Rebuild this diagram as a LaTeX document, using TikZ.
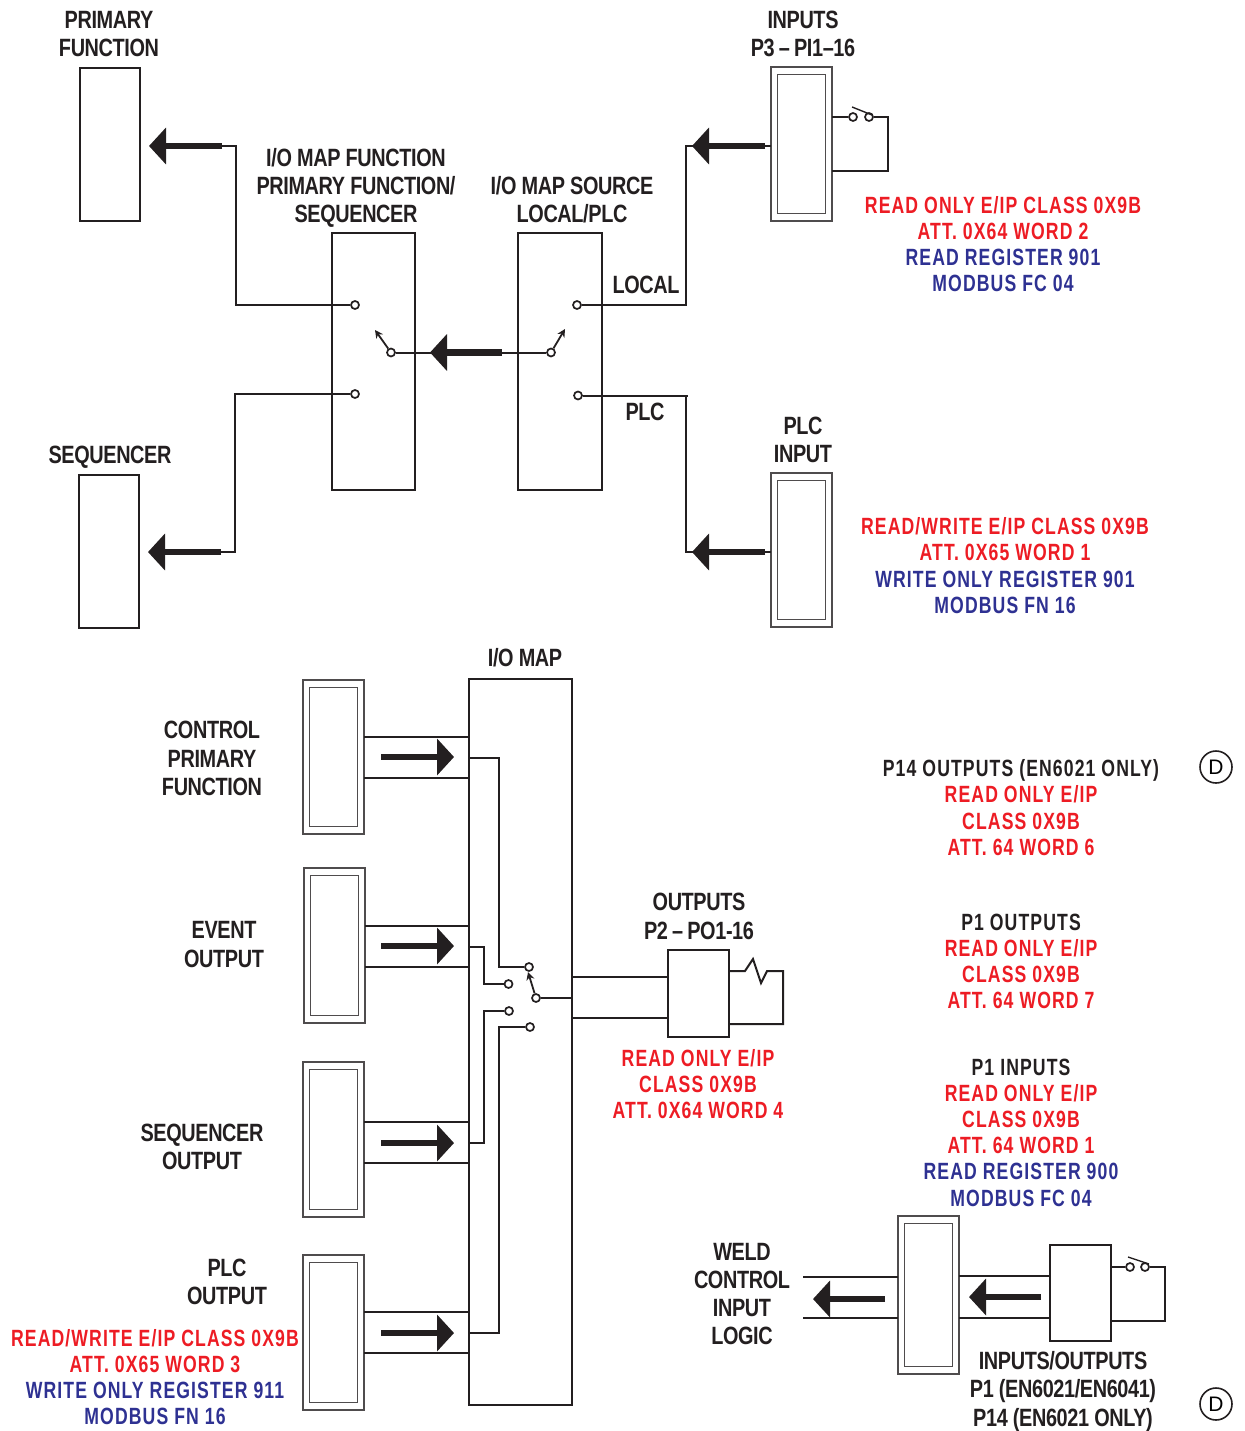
\documentclass[tikz,border=0pt]{standalone}
\usepackage{fontspec}
\setmainfont{Liberation Sans}
\newfontfamily\tightfont[FakeStretch=0.795,LetterSpace=-1.5]{Liberation Sans Bold}
\newfontfamily\notefont[FakeStretch=0.75,LetterSpace=4.7]{Liberation Sans Bold}
\usetikzlibrary{arrows.meta}
\definecolor{inkblack}{HTML}{231F20}
\definecolor{notered}{HTML}{ED1C24}
\definecolor{noteblue}{HTML}{2E3192}
\tikzset{
	wire/.style={draw=inkblack, line width=2pt, line join=miter},
	fatarrow/.style={draw=inkblack, fill=inkblack, line width=6.5pt, -{Triangle[length=17pt, width=36pt]}},
	lever/.style={draw=inkblack, line width=1.8pt, -{Stealth[length=8pt, width=8pt]}},
	box/.style={rectangle, draw=inkblack, line width=2pt, outer sep=0pt, inner sep=0pt},
	shell/.style={rectangle, draw=inkblack!80, line width=1.3pt, outer sep=0pt, inner sep=0pt},
	terminal/.style={circle, draw=inkblack, fill=white, line width=1.7pt, inner sep=0pt, minimum size=8pt},
	title/.style={align=center, text=inkblack, inner sep=0pt, font=\tightfont\fontsize{25}{28.3}\selectfont},
	note/.style={align=center, text=inkblack, inner sep=0pt, font=\notefont\fontsize{23.5}{26.2}\selectfont},
	rev/.style={circle, draw=inkblack, line width=1.6pt, minimum size=32pt, inner sep=0pt, font=\fontsize{21}{21}\selectfont}
}
\newcommand{\rd}[1]{\textcolor{notered}{#1}}
\newcommand{\bl}[1]{\textcolor{noteblue}{#1}}
\begin{document}
\begin{tikzpicture}[x=1pt, y=-1pt]
	\useasboundingbox (0,0) rectangle (1244,1431);
	% upper half
	\node [box, minimum width=60, minimum height=153] (primary) at (110,144.5) {};
	\node [box, minimum width=60, minimum height=153] (sequencer) at (109,551.5) {};
	\node [box, minimum width=83, minimum height=257] (mapfn) at (373.5,361.5) {};
	\node [box, minimum width=84, minimum height=257] (mapsrc) at (560,361.5) {};
	\foreach \name/\x/\y/\h in {inputs/801.5/144/154, plcin/801.5/550/154, control/333.5/757/154, event/334.5/945.5/155, seqout/333.5/1139.5/155, plcout/333.5/1332.5/155, weld/928.5/1295/158}
		{
			\node [shell, minimum width=61, minimum height=\h] (\name) at (\x,\y) {};
			\node [shell, minimum width=48, minimum height=\h-14.5] (\name in) at (\x,\y) {};
		}
	\node [terminal] (fnA) at (355,305) {};
	\node [terminal] (fnB) at (355,394) {};
	\node [terminal] (fnC) at (391,352.5) {};
	\node [terminal] (srcA) at (577,305) {};
	\node [terminal] (srcB) at (578,395.5) {};
	\node [terminal] (srcC) at (551,352.5) {};
	\coordinate (fnlever) at (375,330);
	\coordinate (srclever) at (565,329);
	\coordinate (primtail) at (222,146);
	\coordinate (primtip) at (149,146);
	\coordinate (seqtail) at (221,552);
	\coordinate (seqtip) at (148,552);
	\coordinate (maptail) at (502,352.5);
	\coordinate (maptip) at (430,352.5);
	\coordinate (intail) at (765,146);
	\coordinate (intip) at (692,146);
	\coordinate (plctail) at (765,552);
	\coordinate (plctip) at (692,552);
	\draw [wire] (primtail) -| (236,305) -- (fnA);
	\draw [wire] (seqtail) -| (235,394) -- (fnB);
	\draw [wire] (fnC) -- (srcC);
	\draw [wire] (srcA) -- (686,305) |- (intail) -- (inputs.west |- intail);
	\draw [wire] (srcB) -- (688,395.5);
	\draw [wire] (686,395.5) |- (plctail) -- (plcin.west |- plctail);
	\draw [lever] (fnC) -- (fnlever);
	\draw [lever] (srcC) -- (srclever);
	\draw [fatarrow] (primtail) -- (primtip);
	\draw [fatarrow] (seqtail) -- (seqtip);
	\draw [fatarrow] (maptail) -- (maptip);
	\draw [fatarrow] (intail) -- (intip);
	\draw [fatarrow] (plctail) -- (plctip);
	% contact on inputs
	\node [terminal] (inA) at (853,117) {};
	\node [terminal] (inB) at (869,117) {};
	\coordinate (inbarA) at (852,107);
	\coordinate (inbarB) at (872,115);
	\draw [wire] (inputs.east |- inA) -- (inA);
	\draw [wire] (inB) -- (888,117) |- (inputs.east |- 0,171);
	\draw [wire, line width=1.4pt] (inbarA) -- (inbarB);
	% lower half
	\node [box, minimum width=103, minimum height=726] (iomap) at (520.5,1042) {};
	\foreach \name/\y/\m in {control/737/757, event/926/946, seqout/1122/1143, plcout/1312/1333}
		{
			\draw [wire] (\name.east |- 0,\y) -- (iomap.west |- 0,\y);
			\draw [wire] (\name.east |- 0,\y+41) -- (iomap.west |- 0,\y+41);
			\draw [fatarrow] (381,\m) -- (454,\m);
		}
	\node [terminal] (muxA) at (529,967) {};
	\node [terminal] (muxB) at (508.5,984) {};
	\node [terminal] (muxC) at (509,1011) {};
	\node [terminal] (muxD) at (530,1027) {};
	\node [terminal] (muxE) at (536,998) {};
	\coordinate (muxlever) at (528,972);
	\draw [wire] (iomap.west |- 0,758) -| (498.5,967) -- (muxA);
	\draw [wire] (iomap.west |- 0,947) -| (483.5,984) -- (muxB);
	\draw [wire] (iomap.west |- 0,1143) -| (483.5,1011) -- (muxC);
	\draw [wire] (iomap.west |- 0,1333) -| (498.5,1027) -- (muxD);
	\draw [wire] (muxE) -- (iomap.east |- muxE);
	\draw [lever] (muxE) -- (muxlever);
	\node [box, minimum width=61, minimum height=87] (outrelay) at (698.5,993.5) {};
	\draw [wire] (iomap.east |- 0,977) -- (outrelay.west |- 0,977);
	\draw [wire] (iomap.east |- 0,1018) -- (outrelay.west |- 0,1018);
	\draw [wire] (outrelay.east |- 0,971) -- (745,971) -- (753,959) -- (761,983) -- (767,971) -- (783,971) |- (outrelay.east |- 0,1024);
	% weld control
	\node [box, minimum width=61, minimum height=96] (ioblock) at (1080.5,1293) {};
	\node [terminal] (ioA) at (1130,1267) {};
	\node [terminal] (ioB) at (1145,1267) {};
	\coordinate (iobarA) at (1128,1257);
	\coordinate (iobarB) at (1149,1264);
	\draw [wire] (ioblock.east |- ioA) -- (ioA);
	\draw [wire] (ioB) -- (1165,1267) |- (ioblock.east |- 0,1321);
	\draw [wire, line width=1.4pt] (iobarA) -- (iobarB);
	\draw [wire] (803,1277) -- (weld.west |- 0,1277);
	\draw [wire] (803,1318) -- (weld.west |- 0,1318);
	\draw [wire] (weld.east |- 0,1276) -- (ioblock.west |- 0,1276);
	\draw [wire] (weld.east |- 0,1318) -- (ioblock.west |- 0,1318);
	\draw [fatarrow] (885,1299) -- (813,1299);
	\draw [fatarrow] (1041,1297) -- (969,1297);
	\node [rev] (revA) at (1216,767) {D};
	\node [rev] (revB) at (1216,1404) {D};
	% labels
	\node [title] (lblprimary) at (109,34) {PRIMARY\\FUNCTION};
	\node [title] (lblinputs) at (803,34) {INPUTS\\P3\,–\,PI1–16};
	\node [title] (lblfn) at (356,188) {I/O MAP FUNCTION\\PRIMARY FUNCTION/\\SEQUENCER};
	\node [title] (lblsrc) at (572,200) {I/O MAP SOURCE\\LOCAL/PLC};
	\node [title] (lbllocal) at (646,285) {LOCAL};
	\node [title] (lblplc) at (645,412) {PLC};
	\node [title] (lblplcin) at (803,440) {PLC\\INPUT};
	\node [title] (lblseq) at (110,457) {SEQUENCER};
	\node [title] (lblmap) at (525,658) {I/O MAP};
	\node [title] (lblcontrol) at (212,758.5) {CONTROL\\PRIMARY\\FUNCTION};
	\node [title] (lblevent) at (224,944.5) {EVENT\\OUTPUT};
	\node [title] (lblseqout) at (202,1147) {SEQUENCER\\OUTPUT};
	\node [title] (lblplcout) at (227,1282) {PLC\\OUTPUT};
	\node [title] (lbloutputs) at (699,916.5) {OUTPUTS\\P2\,–\,PO1-16};
	\node [title] (lblweld) at (742,1294) {WELD\\CONTROL\\INPUT\\LOGIC};
	\node [title] (lblio) at (1063,1391.5) {INPUTS/OUTPUTS\\P1 (EN6021/EN6041)\\P14 (EN6021 ONLY)};
	\node [note] (noteinputs) at (1003,244) {\rd{READ ONLY E/IP CLASS 0X9B}\\\rd{ATT. 0X64 WORD 2}\\\bl{READ REGISTER 901}\\\bl{MODBUS FC 04}};
	\node [note] (noteplcin) at (1005,565.5) {\rd{READ/WRITE E/IP CLASS 0X9B}\\\rd{ATT. 0X65 WORD 1}\\\bl{WRITE ONLY REGISTER 901}\\\bl{MODBUS FN 16}};
	\node [note] (notep14) at (1021,807.5) {P14 OUTPUTS (EN6021 ONLY)\\\rd{READ ONLY E/IP}\\\rd{CLASS 0X9B}\\\rd{ATT. 64 WORD 6}};
	\node [note] (notep1out) at (1021,961.5) {P1 OUTPUTS\\\rd{READ ONLY E/IP}\\\rd{CLASS 0X9B}\\\rd{ATT. 64 WORD 7}};
	\node [note] (notep1in) at (1021,1132.5) {P1 INPUTS\\\rd{READ ONLY E/IP}\\\rd{CLASS 0X9B}\\\rd{ATT. 64 WORD 1}\\\bl{READ REGISTER 900}\\\bl{MODBUS FC 04}};
	\node [note] (noteout) at (698,1084) {\rd{READ ONLY E/IP}\\\rd{CLASS 0X9B}\\\rd{ATT. 0X64 WORD 4}};
	\node [note] (noteplcout) at (155,1377) {\rd{READ/WRITE E/IP CLASS 0X9B}\\\rd{ATT. 0X65 WORD 3}\\\bl{WRITE ONLY REGISTER 911}\\\bl{MODBUS FN 16}};
\end{tikzpicture}
\end{document}
